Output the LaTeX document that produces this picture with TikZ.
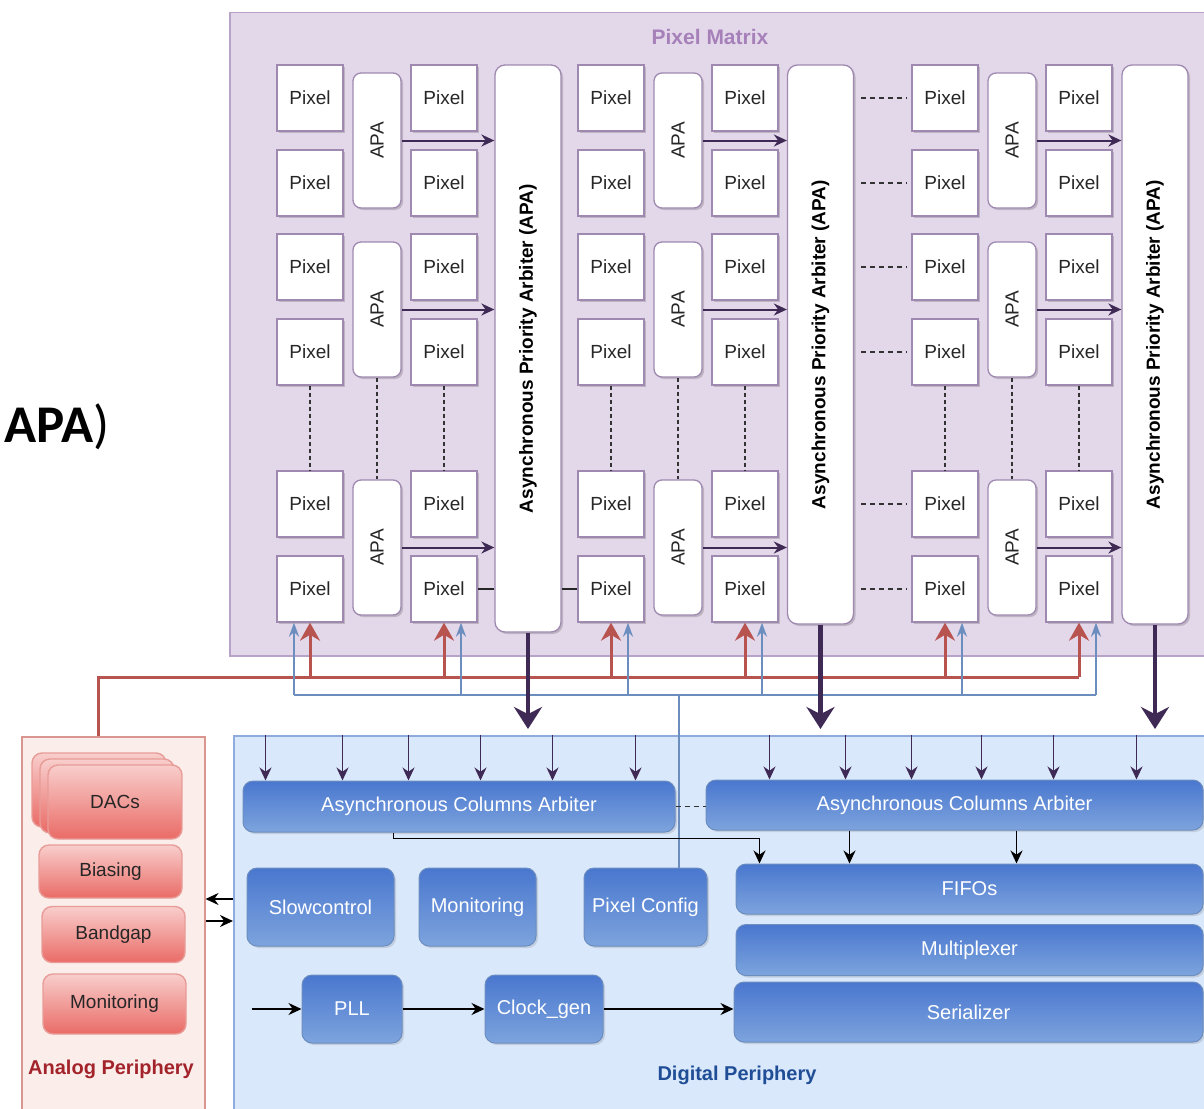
\documentclass[tikz,border=0pt]{standalone}
\usepackage{fontspec}
\setmainfont{Liberation Sans}
\newfontfamily\carlito{Carlito}
\usetikzlibrary{arrows.meta,shadows}
\newcommand{\myfs}[1]{\fontsize{#1}{#1}\selectfont}
\definecolor{pmfill}{HTML}{E3D7EA}
\definecolor{pmdraw}{HTML}{B8A3C8}
\definecolor{pmtitle}{HTML}{A680B8}
\definecolor{pixdraw}{HTML}{9F89B0}
\definecolor{darkpurple}{HTML}{3F2A56}
\definecolor{redc}{HTML}{B85450}
\definecolor{bluec}{HTML}{6C8EBF}
\definecolor{dpfill}{HTML}{DAE8FC}
\definecolor{dpdraw}{HTML}{8FAADC}
\definecolor{dptitle}{HTML}{1F4E96}
\definecolor{dbtop}{HTML}{4A77CF}
\definecolor{dbbot}{HTML}{7DA4DD}
\definecolor{dbdraw}{HTML}{6C8EBF}
\definecolor{apfill}{HTML}{FBEDEA}
\definecolor{apdraw}{HTML}{D99590}
\definecolor{aptitle}{HTML}{A3232B}
\definecolor{abtop}{HTML}{F8CECC}
\definecolor{abbot}{HTML}{EA6B66}
\definecolor{abdraw}{HTML}{E89C98}
\definecolor{txt}{HTML}{262626}
\tikzset{
  pixbox/.style={draw=pixdraw, fill=white, line width=1.3pt, minimum width=66pt,
    minimum height=66pt, inner sep=0pt, font=\myfs{19}, text=txt,
    drop shadow={shadow xshift=2pt, shadow yshift=-2pt, opacity=0.3, fill=black!60}},
  apabox/.style={pixbox, rounded corners=8pt, minimum width=48pt, minimum height=135pt},
  arbbox/.style={pixbox, rounded corners=10pt, minimum width=66pt, font=\bfseries\myfs{19}, text=black},
  dblock/.style={rounded corners=10pt, top color=dbtop, bottom color=dbbot, draw=dbdraw,
    line width=1pt, text=white, font=\myfs{20}, inner sep=0pt,
    drop shadow={shadow xshift=2pt, shadow yshift=-2pt, opacity=0.2, fill=black!60}},
  ablock/.style={rounded corners=10pt, top color=abtop, bottom color=abbot, draw=abdraw,
    line width=1.4pt, text=txt, font=\myfs{19}, inner sep=0pt},
  parrow/.style={draw=darkpurple, line width=2pt, -{Stealth[length=13pt,width=12pt]}},
  downarr/.style={draw=darkpurple, line width=1.8pt, -{Stealth[length=13pt,width=12pt]}},
  bigarrow/.style={draw=darkpurple, line width=4.5pt, -{Stealth[length=22pt,width=28pt]}},
  redline/.style={draw=redc, line width=3pt},
  redarrow/.style={draw=redc, line width=3pt, -{Stealth[length=18pt,width=20pt]}},
  blueline/.style={draw=bluec, line width=2pt},
  bluearrow/.style={draw=bluec, line width=2pt, -{Stealth[length=14pt,width=10pt]}},
  blackarrow/.style={draw=black, line width=1.8pt, -{Stealth[length=13pt,width=12pt]}},
  blackline/.style={draw=black!85, line width=1.8pt},
  vdots/.style={draw=black!80, line width=2.5pt, dash pattern=on 4pt off 3pt},
  hdash/.style={draw=black!80, line width=1.8pt, dash pattern=on 5pt off 4pt},
}
\begin{document}
\begin{tikzpicture}[x=1pt,y=-1pt]
\useasboundingbox (0,0) rectangle (1204,1108);
\clip (0,0) rectangle (1204,1108);
\fill[white] (0,0) rectangle (1204,1108);

% fragment text at left
\node[font=\carlito\myfs{53}, inner sep=0pt] (frag) at (57,427) {\bfseries APA\mdseries)};

% Pixel matrix
\node[draw=pmdraw, fill=pmfill, line width=1.5pt, minimum width=1010pt, minimum height=643pt,
      anchor=north west, inner sep=0pt] (pm) at (229,12) {};
\node[font=\bfseries\myfs{21}, text=pmtitle] (pmt) at (710,37) {Pixel Matrix};

% big arbiters
\node[arbbox, minimum height=567pt] (arb1) at (528,348.5) {\rotatebox{90}{Asynchronous Priority Arbiter (APA)}};
\node[arbbox, minimum height=559pt] (arb2) at (820.5,344.5) {\rotatebox{90}{Asynchronous Priority Arbiter (APA)}};
\node[arbbox, minimum height=559pt] (arb3) at (1155,344.5) {\rotatebox{90}{Asynchronous Priority Arbiter (APA)}};

% pixels and APAs
\foreach \g/\xa/\xp/\xb in {1/310/377/444, 2/611/678/745, 3/945/1012/1079} {
  \foreach \r/\y in {1/98,2/183,3/267,4/352,5/504,6/589} {
    \node[pixbox] (pa\g\r) at (\xa,\y) {Pixel};
    \node[pixbox] (pb\g\r) at (\xb,\y) {Pixel};
  }
  \foreach \k/\y in {1/140.5,2/309.5,3/547.5} {
    \node[apabox] (apa\g\k) at (\xp,\y) {\rotatebox{90}{APA}};
  }
}

% APA -> arbiter arrows, dotted continuations
\foreach \g in {1,2,3} {
  \foreach \k in {1,2,3} {
    \draw[parrow] (apa\g\k.east) -- (apa\g\k.east -| arb\g.west);
  }
  \draw[vdots] (pa\g4.south) -- (pa\g5.north);
  \draw[vdots] (pb\g4.south) -- (pb\g5.north);
  \draw[vdots] (apa\g2.south) -- (apa\g3.north);
}

% horizontal dashes between column groups
\foreach \r in {1,2,3,4,5,6} {
  \draw[hdash, shorten <=7pt, shorten >=4pt] (pa3\r.west -| arb2.east) -- (pa3\r.west);
}

% short solid links at bottom row
\draw[blackline] (pb16.east) -- (pb16.east -| arb1.west);
\draw[blackline] (pa26.west -| arb1.east) -- (pa26.west);

% Analog periphery
\node[draw=apdraw, fill=apfill, line width=1.5pt, minimum width=183pt, minimum height=400pt,
      anchor=north west, inner sep=0pt] (ap) at (21,736) {};
\node[ablock, minimum width=134pt, minimum height=74pt] (dac3) at (99,790) {};
\node[ablock, minimum width=134pt, minimum height=74pt] (dac2) at (107,796) {};
\node[ablock, minimum width=134pt, minimum height=74pt] (dacs) at (115,802) {DACs};
\node[ablock, minimum width=143pt, minimum height=53pt] (bias) at (110.5,871.5) {Biasing};
\node[ablock, minimum width=143pt, minimum height=56pt] (bgap) at (113.5,934.5) {Bandgap};
\node[ablock, minimum width=143pt, minimum height=60pt] (amon) at (114.5,1004) {Monitoring};
\node[font=\bfseries\myfs{20}, text=aptitle] (apt) at (111,1069) {Analog Periphery};

% Digital periphery
\node[draw=dpdraw, fill=dpfill, line width=1.5pt, minimum width=1000pt, minimum height=400pt,
      anchor=north west, inner sep=0pt] (dp) at (233,735) {};
\node[dblock, minimum width=432pt, minimum height=51pt] (aca1) at (459,806.5) {Asynchronous Columns Arbiter};
\node[dblock, minimum width=497pt, minimum height=50pt] (aca2) at (954.5,805) {Asynchronous Columns Arbiter};
\node[dblock, minimum width=467pt, minimum height=50pt] (fifo) at (969.5,889) {FIFOs};
\node[dblock, minimum width=467pt, minimum height=51pt] (mux) at (969.5,950) {Multiplexer};
\node[dblock, minimum width=469pt, minimum height=60pt] (ser) at (968.5,1012) {Serializer};
\node[dblock, minimum width=147pt, minimum height=78pt] (slow) at (320.5,907) {Slowcontrol};
\node[dblock, minimum width=117pt, minimum height=78pt] (dmon) at (477.5,907) {Monitoring};
\node[dblock, minimum width=123pt, minimum height=78pt] (pcfg) at (645.5,907) {Pixel Config};
\node[dblock, minimum width=100pt, minimum height=68pt] (pll) at (352,1009) {PLL};
\node[dblock, minimum width=118pt, minimum height=68pt] (clk) at (544,1009) {Clock\_gen};
\node[font=\bfseries\myfs{20}, text=dptitle] (dpt) at (737,1075) {Digital Periphery};

% red and blue buses
\coordinate (rbL) at (98,677);
\coordinate (bbL) at (294,695);
\draw[redline] (ap.north -| rbL) -- (rbL) -- (pb36.south |- rbL);
\draw[blueline] ([xshift=-16pt]pa16.south |- bbL) -- ([xshift=17pt]pb36.south |- bbL);
\draw[blueline] ([xshift=33pt]pcfg.north) -- ([xshift=33pt]pcfg.north |- bbL);
\draw[bluearrow] ([xshift=-16pt]pa16.south |- bbL) -- ([xshift=-16pt]pa16.south);
\foreach \n in {pb16,pa26,pb26,pa36,pb36} {
  \draw[bluearrow] ([xshift=17pt]\n.south |- bbL) -- ([xshift=17pt]\n.south);
}
\foreach \n in {pa16,pb16,pa26,pb26,pa36,pb36} {
  \draw[redarrow] (\n.south |- rbL) -- (\n.south);
}

% arbiter outputs
\foreach \g in {1,2,3} {
  \draw[bigarrow, shorten >=6pt] (arb\g.south) -- (arb\g.south |- dp.north);
}

% inputs to column arbiters
\foreach \dx in {23,100,166,238,310,393} {
  \draw[downarr] ([xshift=\dx pt]aca1.north west |- dp.north) -- ([xshift=\dx pt]aca1.north west);
}
\foreach \dx in {64,140,206,276,348,431} {
  \draw[downarr] ([xshift=\dx pt]aca2.north west |- dp.north) -- ([xshift=\dx pt]aca2.north west);
}
\draw[hdash] (aca1.east) -- (aca1.east -| aca2.west);

% column arbiters -> FIFOs
\draw[blackarrow] ([xshift=151pt]aca1.south west) -- ++(0,6) -| ([xshift=24pt]fifo.north west);
\draw[blackarrow] ([xshift=144pt]aca2.south west) -- ([xshift=144pt]aca2.south west |- fifo.north);
\draw[blackarrow] ([xshift=311pt]aca2.south west) -- ([xshift=311pt]aca2.south west |- fifo.north);

% analog <-> digital
\draw[blackarrow] ([yshift=8pt]slow.west -| dp.west) -- ([yshift=8pt]slow.west -| ap.east);
\draw[blackarrow] ([yshift=-14pt]slow.west -| ap.east) -- ([yshift=-14pt]slow.west -| dp.west);

% clock chain
\draw[blackarrow] ([xshift=-50pt]pll.west) -- (pll.west);
\draw[blackarrow] (pll.east) -- (clk.west);
\draw[blackarrow] (clk.east) -- (clk.east -| ser.west);
\end{tikzpicture}
\end{document}
